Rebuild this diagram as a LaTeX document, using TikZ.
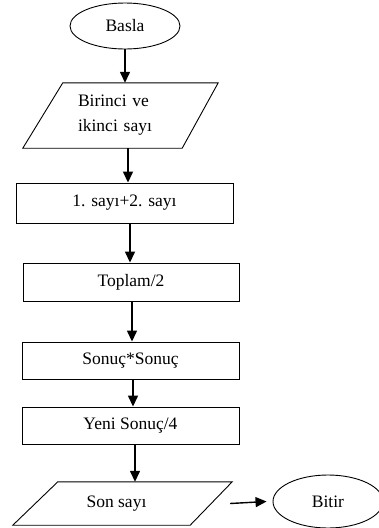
\documentclass[tikz,border=0pt]{standalone}
\usepackage{fontspec}
\setmainfont{Liberation Serif}
\usetikzlibrary{shapes.geometric,arrows.meta}
\begin{document}
\begin{tikzpicture}[x=1pt,y=-1pt,
  every node/.style={font=\fontsize{17.5}{25}\selectfont,inner sep=0pt},
  outline/.style={draw,line width=0.9pt},
  box/.style={outline,rectangle},
  term/.style={outline,ellipse},
  arr/.style={line width=1.4pt,-{Triangle[length=11pt,width=10pt]}}]
\useasboundingbox[fill=white] (0,0) rectangle (378,528);

% flowchart blocks
\node[term,minimum width=110pt,minimum height=46pt] (basla) at (125,26) {Basla};
\node[minimum width=195pt,minimum height=65pt,text width=85pt,align=left]
      (giris) at (120.5,115.5) {Birinci ve\\ikinci sayı};
\node[box,minimum width=217pt,minimum height=40pt] (toplama) at (124.5,203) {1. sayı+2. sayı};
\node[box,minimum width=216pt,minimum height=38pt] (bolme) at (131,282) {Toplam/2};
\node[box,minimum width=217pt,minimum height=37pt] (kare) at (130.5,360.5) {Sonuç*Sonuç};
\node[box,minimum width=217pt,minimum height=37pt] (dortte) at (130.5,425.5) {Yeni Sonuç/4};
\node[minimum width=219pt,minimum height=43pt] (cikis) at (122.5,503.5) {\hspace*{-12pt}Son sayı};
\node[term,minimum width=110pt,minimum height=53pt] (bitir) at (328,501.5) {Bitir};

% input / output parallelograms
\draw[outline] ([xshift=40pt]giris.north west) -- (giris.north east)
  -- ([xshift=-36pt]giris.south east) -- (giris.south west) -- cycle;
\draw[outline] ([xshift=45pt]cikis.north west) -- (cikis.north east)
  -- ([xshift=-42pt]cikis.south east) -- (cikis.south west) -- cycle;

% connectors
\draw[arr] (basla.south) -- (basla.south |- giris.north);
\draw[arr] ([xshift=7.5pt]giris.south) -- ([xshift=7.5pt]giris.south |- toplama.north);
\draw[arr] ([xshift=5.5pt]toplama.south) -- ([xshift=5.5pt]toplama.south |- bolme.north);
\draw[arr] ([xshift=1pt]bolme.south) -- ([xshift=1pt]bolme.south |- kare.north);
\draw[arr] ([xshift=2.5pt]kare.south) -- ([xshift=2.5pt]kare.south |- dortte.north);
\draw[arr] ([xshift=4.5pt]dortte.south) -- ([xshift=4.5pt]dortte.south |- cikis.north);
\coordinate (ciktiucu) at ([xshift=-2pt]cikis.east);
\draw[arr] (ciktiucu) -- ([xshift=-6pt]bitir.west);
\end{tikzpicture}
\end{document}
